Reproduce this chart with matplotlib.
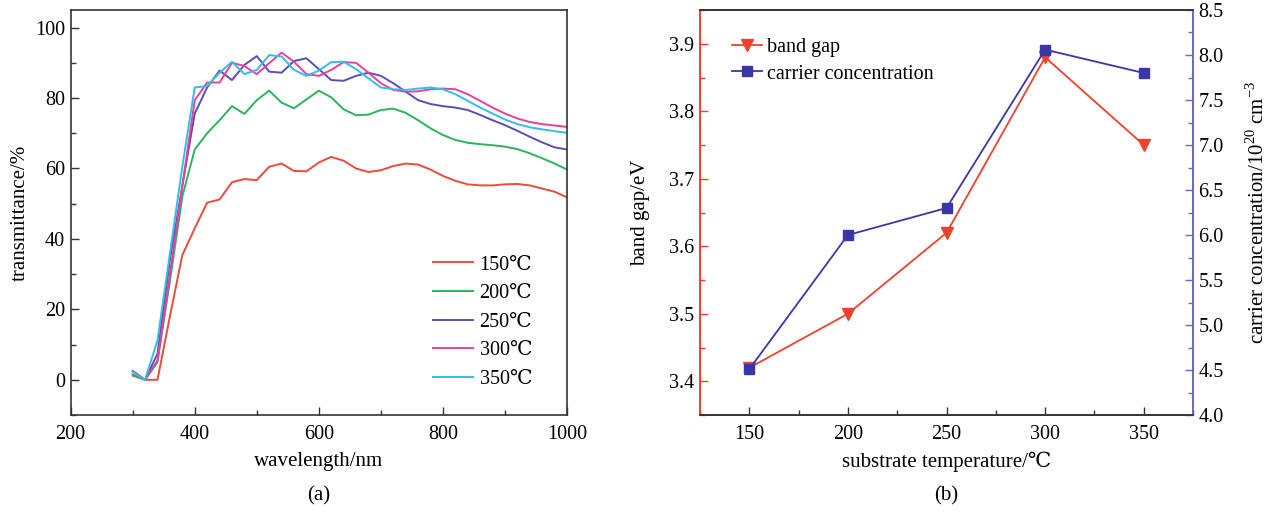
import matplotlib
matplotlib.use("Agg")
import matplotlib.pyplot as plt
from matplotlib.ticker import MultipleLocator

plt.rcParams["font.family"] = ["Liberation Serif", "DejaVu Serif", "Noto Sans CJK SC"]
plt.rcParams["mathtext.fontset"] = "custom"
plt.rcParams["mathtext.rm"] = "Liberation Serif"
plt.rcParams["font.size"] = 14.5

# ---------------------------------------------------------------------------
# (a) transmittance spectra
# ---------------------------------------------------------------------------
wavelength = [300, 320, 340, 360, 380, 400, 420, 440, 460, 480, 500, 520, 540,
              560, 580, 600, 620, 640, 660, 680, 700, 720, 740, 760, 780, 800,
              820, 840, 860, 880, 900, 920, 940, 960, 980, 1000]

t150 = [1.2, 0.0, 0.0, 18.0, 35.4, 43.0, 50.3, 51.2, 56.1, 57.0, 56.7, 60.5, 61.4,
        59.3, 59.2, 61.7, 63.3, 62.2, 60.0, 59.0, 59.5, 60.7, 61.4, 61.1, 59.7, 57.9,
        56.5, 55.5, 55.2, 55.2, 55.5, 55.6, 55.2, 54.3, 53.4, 51.8]
t200 = [1.5, 0.0, 5.0, 28.0, 52.0, 65.4, 70.0, 73.7, 77.7, 75.5, 79.4, 82.1, 78.7,
        77.1, 79.6, 82.1, 80.2, 76.8, 75.1, 75.3, 76.6, 77.0, 75.8, 73.7, 71.4, 69.5,
        68.1, 67.3, 66.9, 66.6, 66.2, 65.5, 64.3, 62.9, 61.4, 59.7]
t250 = [2.5, 0.0, 7.4, 34.0, 55.0, 75.6, 83.0, 87.8, 85.1, 89.4, 91.9, 87.5, 87.2,
        90.5, 91.3, 88.2, 85.1, 84.9, 86.3, 87.2, 86.3, 84.2, 81.8, 79.4, 78.3, 77.7,
        77.3, 76.6, 75.2, 73.7, 72.3, 70.7, 69.0, 67.4, 66.0, 65.4]
t300 = [2.5, 0.0, 5.5, 30.0, 55.0, 79.4, 84.4, 84.4, 90.0, 89.1, 86.8, 89.9, 92.9,
        90.3, 86.8, 86.3, 88.0, 90.2, 90.0, 87.2, 84.2, 82.3, 81.8, 81.9, 82.5, 82.7,
        82.5, 81.1, 79.2, 77.3, 75.6, 74.2, 73.2, 72.6, 72.2, 71.8]
t350 = [2.2, 0.0, 11.2, 35.8, 60.5, 83.0, 83.4, 87.2, 90.3, 86.8, 88.0, 92.2, 91.8,
        88.0, 86.3, 87.8, 90.2, 90.3, 88.2, 85.6, 83.0, 82.5, 82.3, 82.7, 83.0, 82.5,
        81.1, 79.2, 77.3, 75.6, 73.9, 72.6, 71.7, 71.1, 70.6, 70.1]

series_a = [t150, t200, t250, t300, t350]
labels_a = ["150℃", "200℃", "250℃", "300℃", "350℃"]
colors_a = ["#ec4a3c", "#2cb35c", "#5a4eb2", "#e8409c", "#30bfe8"]

# ---------------------------------------------------------------------------
# (b) band gap / carrier concentration
# ---------------------------------------------------------------------------
temperature = [150, 200, 250, 300, 350]
band_gap = [3.42, 3.50, 3.62, 3.88, 3.75]
carrier = [4.51, 6.00, 6.30, 8.06, 7.80]

RED = "#f0402e"
BLUE = "#3a36a8"
AX_BLUE = "#6a66c8"
SPINE = "#333333"

fig = plt.figure(figsize=(12.7, 5.18), dpi=100)

ax = fig.add_axes([0.0556, 0.1988, 0.3909, 0.7819])
for y, lab, c in zip(series_a, labels_a, colors_a):
    ax.plot(wavelength, y, color=c, linewidth=1.4, label=lab)
ax.set_xlim(200, 1000)
ax.set_ylim(-10, 105)
ax.xaxis.set_major_locator(MultipleLocator(200))
ax.xaxis.set_minor_locator(MultipleLocator(100))
ax.yaxis.set_major_locator(MultipleLocator(20))
ax.yaxis.set_minor_locator(MultipleLocator(10))
ax.tick_params(which="both", direction="in", top=False, right=False, color=SPINE)
ax.tick_params(which="major", length=6, width=1.0)
ax.tick_params(which="minor", length=3.5, width=1.0)
ax.tick_params(axis="x", pad=7)
ax.tick_params(axis="y", pad=4)
for s in ax.spines.values():
    s.set_color(SPINE)
    s.set_linewidth(1.2)
ax.set_xlabel("wavelength/nm", fontsize=15, labelpad=6)
ax.set_ylabel("transmittance/%", fontsize=15, labelpad=4)
ax.legend(loc="lower right", bbox_to_anchor=(0.95, 0.04), frameon=False,
          borderpad=0, handlelength=2.0, handletextpad=0.3, labelspacing=0.47,
          fontsize=14.5)
fig.text(0.2511, 0.025, "(a)", ha="center", va="bottom", fontsize=15)

# (b)
bx = fig.add_axes([0.5512, 0.1988, 0.3882, 0.7819])
bx2 = bx.twinx()
l1, = bx.plot(temperature, band_gap, color=RED, linewidth=1.3, marker="v",
              markersize=9, label="band gap")
l2, = bx2.plot(temperature, carrier, color=BLUE, linewidth=1.3, marker="s",
               markersize=7, label="carrier concentration")
bx.set_xlim(125, 375)
bx.set_ylim(3.35, 3.95)
bx2.set_ylim(4.0, 8.5)
bx.xaxis.set_major_locator(MultipleLocator(50))
bx.xaxis.set_minor_locator(MultipleLocator(25))
bx.yaxis.set_major_locator(MultipleLocator(0.1))
bx.yaxis.set_minor_locator(MultipleLocator(0.05))
bx2.yaxis.set_major_locator(MultipleLocator(0.5))
bx2.yaxis.set_minor_locator(MultipleLocator(0.25))
bx.yaxis.set_major_formatter(plt.FormatStrFormatter("%.1f"))
bx2.yaxis.set_major_formatter(plt.FormatStrFormatter("%.1f"))

bx.tick_params(which="both", direction="in", top=False, right=False)
bx.tick_params(axis="x", which="both", color=SPINE, pad=7)
bx.tick_params(axis="y", which="both", color=RED, pad=4)
bx2.tick_params(which="both", direction="in", color=AX_BLUE, pad=4)
for a in (bx, bx2):
    a.tick_params(which="major", length=6, width=1.0)
    a.tick_params(which="minor", length=3.5, width=1.0)
    for s in a.spines.values():
        s.set_linewidth(1.2)
        s.set_color(SPINE)
bx.spines["left"].set_color(RED)
bx2.spines["left"].set_color(RED)
bx2.spines["right"].set_color(AX_BLUE)
bx.spines["right"].set_color(AX_BLUE)

bx.set_xlabel("substrate temperature/℃", fontsize=15, labelpad=6)
bx.set_ylabel("band gap/eV", fontsize=15, labelpad=14)
bx2.set_ylabel("carrier concentration/10$^{20}$ cm$^{-3}$", fontsize=15, labelpad=16)
bx.legend([l1, l2], ["band gap", "carrier concentration"], loc="upper left",
          bbox_to_anchor=(0.045, 0.955), frameon=False, borderpad=0,
          handlelength=1.5, handletextpad=0.2, labelspacing=0.35, numpoints=1,
          fontsize=14.5)
fig.text(0.7453, 0.025, "(b)", ha="center", va="bottom", fontsize=15)

fig.savefig("out.png", dpi=100)
